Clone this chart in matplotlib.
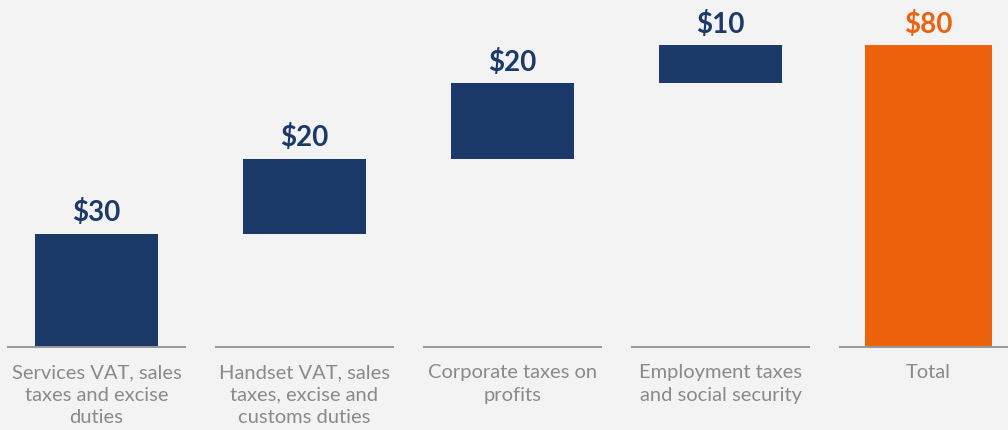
import matplotlib.pyplot as plt

# tax contributions, waterfall style
categories = ["Services VAT, sales\ntaxes and excise\nduties",
              "Handset VAT, sales\ntaxes, excise and\ncustoms duties",
              "Corporate taxes on\nprofits",
              "Employment taxes\nand social security",
              "Total"]
values = [30, 20, 20, 10]
total = sum(values)

navy = "#1b3a6a"
orange = "#ec620d"
bg = "#f3f3f3"

fig = plt.figure(figsize=(10.08, 4.30), dpi=100, facecolor=bg)
ax = fig.add_axes([0, 0, 1, 1])
ax.set_facecolor(bg)

px = 3.77  # pixels per unit on y
ax.set_xlim(-96.5 / 208, (1008 - 96.5) / 208)
ax.set_ylim(-(430 - 347) / px, 347 / px)
ax.axis("off")

bottom = 0
for i, v in enumerate(values):
    ax.bar(i, v, bottom=bottom, width=0.596, color=navy)
    ax.text(i, bottom + v + 2.0, f"${v}", ha="center", va="bottom",
            color=navy, fontsize=20, fontweight="bold", family="Lato")
    bottom += v

n = len(values)
ax.bar(n, total, width=0.606, color=orange)
ax.text(n, total + 2.0, f"${total}", ha="center", va="bottom",
        color=orange, fontsize=20, fontweight="bold", family="Lato")

for i, lab in enumerate(categories):
    ax.hlines(0, i - 0.43, i + 0.43, color="#999999", lw=1.4)
    ax.text(i, -4.6, lab, ha="center", va="top", color="#8a8a8a",
            fontsize=14.5, family="Lato", linespacing=1.38)

fig.savefig("out.png", dpi=100, facecolor=bg)
